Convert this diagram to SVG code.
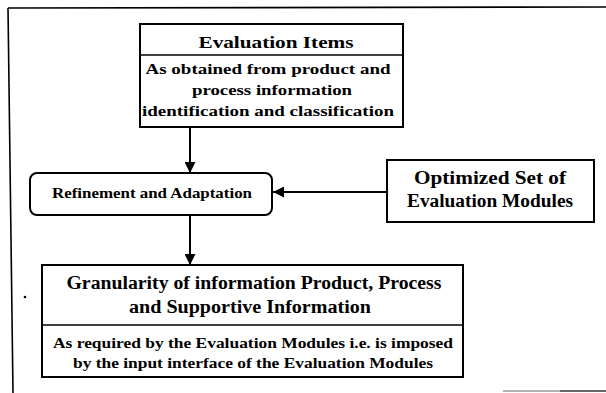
<svg xmlns="http://www.w3.org/2000/svg" width="606" height="393" viewBox="0 0 606 393">
  <style>
    .box { fill: #ffffff; stroke: #000000; stroke-width: 2; }
    .div { stroke: #000000; stroke-width: 1.5; }
    .frame { stroke: #000000; stroke-width: 1.6; fill: none; }
    .conn { stroke: #000000; stroke-width: 2; fill: none; }
    text { font-family: "Liberation Serif", "Times New Roman", serif; font-weight: bold; fill: #000000; text-anchor: middle; }
    .t16 { font-size: 16px; }
    .t15 { font-size: 15px; }
    .t18 { font-size: 18px; }
  </style>
  <defs>
    <marker id="arrow" viewBox="0 0 10 10" refX="10" refY="5" markerWidth="5.5" markerHeight="5.5" orient="auto" markerUnits="strokeWidth">
      <path d="M0,0 L10,5 L0,10 z" fill="#000000"/>
    </marker>
  </defs>
  <rect width="606" height="393" fill="#ffffff"/>

  <!-- outer frame (open on right and bottom) -->
  <g id="frame">
    <line class="frame" x1="8" y1="8" x2="606" y2="7"/>
    <line class="frame" x1="8" y1="8" x2="13" y2="393"/>
    <line x1="503" y1="391" x2="560" y2="391" stroke="#9a9a9a" stroke-width="1.5"/>
    <line x1="560" y1="391" x2="606" y2="391" stroke="#333333" stroke-width="1.5"/>
  </g>

  <!-- connectors -->
  <g id="connectors">
    <line class="conn" x1="190" y1="127" x2="190" y2="173" marker-end="url(#arrow)"/>
    <line class="conn" x1="387" y1="192" x2="273" y2="192" marker-end="url(#arrow)"/>
    <line class="conn" x1="190" y1="215" x2="190" y2="265" marker-end="url(#arrow)"/>
  </g>

  <g id="evaluation-items">
    <rect class="box" x="140" y="24" width="263" height="103"/>
    <line class="div" x1="140" y1="55" x2="403" y2="55"/>
    <text class="t16" x="276" y="48" textLength="155" lengthAdjust="spacingAndGlyphs">Evaluation Items</text>
    <text class="t15" x="268" y="74" textLength="245" lengthAdjust="spacingAndGlyphs">As obtained from product and</text>
    <text class="t15" x="272" y="95" textLength="160" lengthAdjust="spacingAndGlyphs">process information</text>
    <text class="t15" x="268" y="116" textLength="252" lengthAdjust="spacingAndGlyphs">identification and classification</text>
  </g>

  <g id="refinement">
    <rect class="box" x="30" y="173" width="242" height="42" rx="7" ry="7"/>
    <text class="t15" x="152" y="198" textLength="200" lengthAdjust="spacingAndGlyphs">Refinement and Adaptation</text>
  </g>

  <g id="optimized-set">
    <rect class="box" x="387" y="160" width="207" height="62"/>
    <text class="t18" x="490" y="184" textLength="152" lengthAdjust="spacingAndGlyphs">Optimized Set of</text>
    <text class="t18" x="490" y="207" textLength="166" lengthAdjust="spacingAndGlyphs">Evaluation Modules</text>
  </g>

  <g id="granularity">
    <rect class="box" x="42" y="265" width="421" height="112"/>
    <line class="div" x1="42" y1="325" x2="463" y2="325"/>
    <text class="t18" x="254" y="289" textLength="375" lengthAdjust="spacingAndGlyphs">Granularity of information Product, Process</text>
    <text class="t18" x="250" y="313" textLength="242" lengthAdjust="spacingAndGlyphs">and Supportive Information</text>
    <text class="t15" x="253" y="348" textLength="400" lengthAdjust="spacingAndGlyphs">As required by the Evaluation Modules i.e. is imposed</text>
    <text class="t15" x="253" y="368" textLength="360" lengthAdjust="spacingAndGlyphs">by the input interface of the Evaluation Modules</text>
  </g>

  <circle cx="25" cy="297" r="1.3" fill="#000000"/>
</svg>
